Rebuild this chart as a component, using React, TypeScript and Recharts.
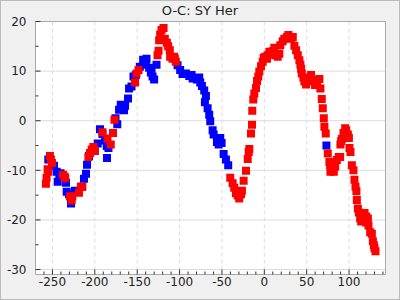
import React from 'react';
import { ScatterChart, Scatter, XAxis, YAxis, ZAxis, CartesianGrid, ReferenceArea } from 'recharts';

// O-C residuals [epoch, O-C]
const bluePoints: [number, number][] = [
  [-254.9, -7.8], [-248.2, -9.1], [-245, -10.3], [-243.8, -12.3], [-241.9, -11.3], [-240.5, -10.6],
  [-234, -12.5], [-233.2, -14.3], [-230.5, -14.8], [-228.1, -16.7], [-223.4, -14.1], [-215.5, -13.3],
  [-212.8, -11.7], [-210.4, -10.7], [-209.2, -8.9], [-206.8, -7.1], [-196.6, -4.6], [-193.9, -1.7],
  [-191, -2.7], [-187.9, -4], [-185.9, -5.1], [-183.9, -5.5], [-185.6, -7.5], [-175.6, 0.5],
  [-173.5, -0.7], [-171.4, 2.2], [-169.4, 3.2], [-167.4, 2.5], [-165.5, 2.1], [-164.3, 3],
  [-160.8, 4.5], [-159.6, 6.5], [-156.7, 6.9], [-154.4, 8.9], [-151.6, 9.2], [-146.9, 10.9],
  [-143, 12.3], [-139, 12.5], [-139.8, 11.3], [-135.9, 10.7], [-133.1, 10.5], [-133.9, 9.7],
  [-131.9, 8.9], [-130, 8.3], [-127.2, 11.3], [-102.4, 11.2], [-99.3, 10.2], [-96.5, 9.4],
  [-92.5, 9.5], [-88.6, 9], [-85.8, 9.2], [-84.6, 8.5], [-79.5, 8.3], [-76.8, 8.7],
  [-75.6, 7.7], [-73.6, 7], [-70.9, 6.1], [-68.9, 5], [-70.1, 3.7], [-66.9, 2.5],
  [-65, 1.2], [-63.8, -0.1], [-61, -1.9], [-59.8, -2.8], [-55.9, -4.3], [-53.9, -4.8],
  [-52, -3.5], [-50.4, -4.5], [-48, -6.7], [-45.3, -7.8], [-42.6, -9], [73.3, -5],
];

const redPoints: [number, number][] = [
  [-253, -7.1], [-251.8, -7.8], [-250.5, -8.5], [-255.7, -9.8], [-254.9, -10.3], [-256.9, -11.5],
  [-257.7, -12.7], [-237.5, -10.9], [-235.6, -11.3], [-234.9, -11.6], [-229.3, -15.3], [-226.5, -15.3],
  [-227.3, -16.1], [-218.7, -14.5], [-216.5, -13.3], [-214.7, -13.3], [-207.6, -7.3], [-205.7, -6.5],
  [-203.7, -5.8], [-201.7, -5.3], [-199.8, -6.1], [-191, -2.3], [-185.1, -3.6], [-181.2, -4.8],
  [-178.5, -2.5], [-176.8, 0.2], [-152.5, 7.7], [-150.8, 9.5], [-148.4, 10.2],
  [-126, 13.2], [-124.8, 14.1], [-124.1, 16.2], [-122.9, 17.4], [-121.3, 18.3], [-118.9, 18.7],
  [-117.4, 16.5], [-115, 15.7], [-113.5, 15], [-111.5, 14.2], [-111.1, 12.9], [-108.3, 12.5],
  [-106.4, 12.9], [-105.6, 12.5], [-104.4, 11.9],
  [-40.2, -11.5], [-37.4, -12.6], [-35.5, -13.5], [-33.5, -14.6], [-31.4, -15.1], [-29.6, -15.7],
  [-27.5, -14.8], [-26.4, -14.1], [-24.4, -12.1], [-21.6, -10.1], [-19.6, -7.7], [-18.4, -6.3],
  [-17.7, -5.7], [-15.7, -2.6], [-14.5, -0.8], [-14.2, 2], [-13, 4.3], [-11.8, 5.5],
  [-9.8, 6.6], [-8.6, 8], [-7.1, 8.9], [-5.9, 9.9], [-3.9, 11], [-1.9, 11.9],
  [-0.7, 12.7], [1.2, 12.9], [3.2, 12.5], [4, 13.2], [5.9, 13.9], [7.9, 13.5],
  [9.9, 14], [11.8, 14.7], [13.8, 13.2], [15.8, 12.9], [17.7, 13.5], [18.9, 15.2],
  [21.7, 16], [23.6, 16.5], [26.8, 16.9], [28.4, 17.3], [31.6, 16.5], [33.6, 16.9],
  [35.5, 15.1], [37.5, 14.2], [39.5, 13.2], [41.4, 12.2], [42.6, 11.3], [43.4, 10.5],
  [44.2, 9.5], [46.1, 8.7], [47.3, 7.9], [49.3, 7.3], [51.3, 7.9], [53.2, 8.5],
  [55.2, 9.2], [57.2, 8.2], [59.9, 7.2], [62.3, 7.9], [65, 8.4], [66.2, 6.5],
  [67.8, 4.4], [69, 2.5], [70.2, 0.5], [70.9, -1.2], [72.5, -2.6], [74.9, -6.6],
  [76.8, -8.3], [77.7, -9], [79.7, -9.7], [78, -10.3], [82, -10.3], [83.6, -9.3],
  [85.6, -7.9], [87.9, -7.3], [89.5, -7.3], [89.8, -4.8], [90.7, -4.1], [91.5, -3.7],
  [93.4, -2.5], [95.4, -1.5], [96.6, -1.9], [98.6, -2.8], [99.8, -3.5], [100.5, -5.5],
  [101.7, -6.3], [103.3, -9], [105.2, -10], [106.4, -11.9], [107.6, -13.3], [108.7, -14.2],
  [109.2, -16], [110.4, -17.7], [111.6, -18.5], [113.1, -19.7], [114.3, -20.3], [116.3, -18.8],
  [118.2, -18.6], [120.2, -19.3], [122.2, -19.7], [120.2, -20.5], [122.9, -21.1], [124.9, -22.5],
  [126.9, -22.8], [128.1, -24.3], [129.3, -25.1], [130, -25.7], [131.2, -26.3],
];

const xDomain = [-270, 143];
const yDomain = [-31, 20];
const xTicks = [-260, -250, -240, -230, -220, -210, -200, -190, -180, -170, -160, -150, -140, -130, -120,
  -110, -100, -90, -80, -70, -60, -50, -40, -30, -20, -10, 0, 10, 20, 30, 40, 50, 60, 70, 80, 90, 100,
  110, 120, 130, 140];
const xMajor = [-250, -200, -150, -100, -50, 0, 50, 100];
const yTicks = [-30, -25, -20, -15, -10, -5, 0, 5, 10, 15, 20];
const yMajor = [-30, -20, -10, 0, 10, 20];

const blueData = bluePoints.map(([x, y]) => ({ x, y }));
const redData = redPoints.map(([x, y]) => ({ x, y }));

const FONT = '"DejaVu Sans", sans-serif';
const TICK_GAP = 3;
const TEXT_COLOR = '#222';

const XTick = (props: any) => {
  const { x, y, payload } = props;
  const major = xMajor.includes(payload.value);
  const base = y - TICK_GAP;
  return (
    <g>
      <line x1={x} x2={x} y1={base} y2={base - (major ? 5 : 3)} stroke="#333" />
      {major && (
        <text x={x} y={y} dy="0.71em" textAnchor="middle" fontSize={12} fontFamily={FONT} fill={TEXT_COLOR}>
          {payload.value}
        </text>
      )}
    </g>
  );
};

const YTick = (props: any) => {
  const { x, y, payload } = props;
  const major = yMajor.includes(payload.value);
  const base = x + 9;
  return (
    <g>
      <line x1={base} x2={base + (major ? 5 : 3)} y1={y} y2={y} stroke="#333" />
      {major && (
        <text x={x} y={y} dy="0.355em" textAnchor="end" fontSize={12} fontFamily={FONT} fill={TEXT_COLOR}>
          {payload.value}
        </text>
      )}
    </g>
  );
};

export default function App() {
  return (
    <div style={{ position: 'absolute', left: 0, top: 0, width: 400, height: 300, background: '#f0f0f0' }}>
      <div
        style={{
          position: 'absolute', left: 0, top: 3, width: 400, textAlign: 'center',
          fontFamily: FONT, fontSize: 13, lineHeight: '16px', color: TEXT_COLOR,
        }}
      >
        O-C: SY Her
      </div>
      <div style={{ position: 'absolute', left: 0, top: 0 }}>
        <ScatterChart width={400} height={300} margin={{ top: 21.5, right: 14.5, bottom: 0, left: 0 }}>
          <CartesianGrid horizontal vertical={false} fill="#fff" stroke="#dcdcdc" horizontalValues={yMajor} />
          <CartesianGrid horizontal={false} vertical stroke="#dcdcdc" strokeDasharray="4 3" verticalValues={xMajor} />
          <XAxis
            type="number"
            dataKey="x"
            domain={xDomain}
            ticks={xTicks}
            allowDataOverflow
            height={25.5}
            axisLine={false}
            tickLine={false}
            tickSize={0}
            tickMargin={TICK_GAP}
            tick={<XTick />}
            interval={0}
          />
          <YAxis
            type="number"
            dataKey="y"
            domain={yDomain}
            ticks={yTicks}
            allowDataOverflow
            width={35.5}
            axisLine={false}
            tickLine={false}
            tickSize={0}
            tickMargin={9}
            tick={<YTick />}
            interval={0}
          />
          <ZAxis range={[25, 25]} />
          <ReferenceArea x1={xDomain[0]} x2={xDomain[1]} y1={yDomain[0]} y2={yDomain[1]} fill="none" stroke="#aaa" />
          <Scatter data={blueData} fill="#0000ff" shape="square" isAnimationActive={false} />
          <Scatter data={redData} fill="#ff0000" shape="square" isAnimationActive={false} />
        </ScatterChart>
      </div>
      <div
        style={{
          position: 'absolute', left: 0, top: 0, width: 400, height: 300,
          border: '1px solid #bbb', boxSizing: 'border-box', pointerEvents: 'none',
        }}
      />
    </div>
  );
}
